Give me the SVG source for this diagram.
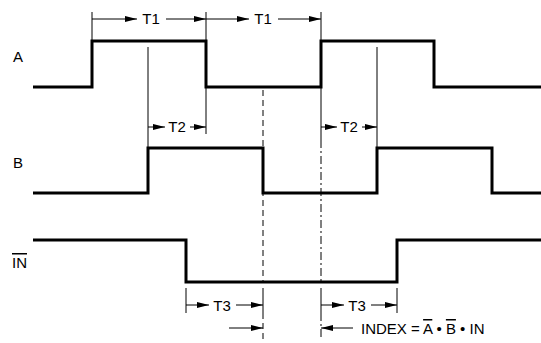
<svg xmlns="http://www.w3.org/2000/svg" width="541" height="343" viewBox="0 0 541 343">
<defs>
<marker id="ah" viewBox="0 0 12 6" refX="12" refY="3" markerWidth="12" markerHeight="6" markerUnits="userSpaceOnUse" orient="auto-start-reverse">
<path d="M0,0 L12,3 L0,6 Z" fill="#000"/>
</marker>
<style>
.sig{fill:none;stroke:#000;stroke-width:3;stroke-linejoin:miter}
.thin{fill:none;stroke:#000;stroke-width:1}
.dash{fill:none;stroke:#000;stroke-width:1;stroke-dasharray:6,4}
.dashdot{fill:none;stroke:#000;stroke-width:1;stroke-dasharray:8,3,2,3}
.dim{fill:none;stroke:#000;stroke-width:1}
.lbl{font-family:"Liberation Sans",Arial,sans-serif;font-size:15px;fill:#000}
.ctr{text-anchor:middle}
.ov{text-decoration:overline}
</style>
</defs>
<rect width="541" height="343" fill="#fff"/>

<g id="signal-A">
<path class="sig" d="M33,87 H92 V41 H206 V87 H321 V41 H434 V87 H541"/>
<text class="lbl" x="13" y="62">A</text>
</g>
<g id="signal-B">
<path class="sig" d="M33,193 H148 V148 H263 V193 H377 V148 H492 V193 H541"/>
<text class="lbl" x="13" y="168">B</text>
</g>
<g id="signal-IN">
<path class="sig" d="M33,240 H186 V282 H397 V240 H541"/>
<text class="lbl" x="12" y="268"><tspan class="ov">IN</tspan></text>
</g>

<g id="connectors">
<path class="thin" d="M92,12 V41 M206,12 V41 M321,12 V41"/>
<path class="thin" d="M148,47 V148 M206,87 V134 M321,88 V140 M377,47 V148"/>
<path class="dash" d="M263,90 V282 M263,313 V340"/>
<path class="dashdot" d="M321,140 V282 M321,313 V340"/>
<path class="thin" d="M186,288 V313 M263,288 V313 M321,288 V313 M397,288 V313"/>
<path class="dim" marker-start="url(#ah)" d="M137,19 H92"/>
<path class="dim" marker-end="url(#ah)" d="M166,19 H206"/>
<path class="dim" marker-start="url(#ah)" d="M249,19 H206"/>
<path class="dim" marker-end="url(#ah)" d="M278,19 H321"/>
<path class="dim" marker-start="url(#ah)" d="M165,127 H148"/>
<path class="dim" marker-end="url(#ah)" d="M190,127 H206"/>
<path class="dim" marker-start="url(#ah)" d="M337,127 H321"/>
<path class="dim" marker-end="url(#ah)" d="M362,127 H377"/>
<path class="dim" marker-start="url(#ah)" d="M209,305 H186"/>
<path class="dim" marker-end="url(#ah)" d="M236,305 H263"/>
<path class="dim" marker-start="url(#ah)" d="M344,305 H321"/>
<path class="dim" marker-end="url(#ah)" d="M371,305 H397"/>
<path class="dim" marker-end="url(#ah)" d="M229,328 H263"/>
<path class="dim" marker-end="url(#ah)" d="M353,328 H321"/>
</g>

<g id="labels">
<text class="lbl ctr" x="151" y="24">T1</text>
<text class="lbl ctr" x="263" y="24">T1</text>
<text class="lbl ctr" x="177" y="132">T2</text>
<text class="lbl ctr" x="349" y="132">T2</text>
<text class="lbl ctr" x="222" y="311">T3</text>
<text class="lbl ctr" x="357" y="311">T3</text>
<text class="lbl" x="361" y="334">INDEX = <tspan class="ov">A</tspan> • <tspan class="ov">B</tspan> • IN</text>
</g>
</svg>
